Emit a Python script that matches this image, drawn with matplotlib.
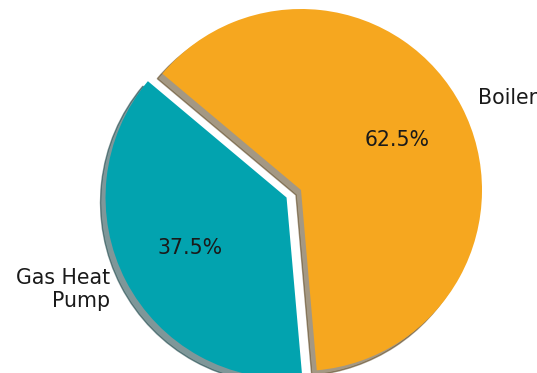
import matplotlib
matplotlib.use("Agg")
import matplotlib.pyplot as plt

labels = ["Gas Heat\nPump", "Boiler"]
values = [37.5, 62.5]
colors = ["#02A3AF", "#F6A71F"]
explode = [0.09, 0.0]

W, H, dpi = 537, 373, 100
fig = plt.figure(figsize=(W / dpi, H / dpi), dpi=dpi)
ax = fig.add_axes([0, 0, 1, 1])

ax.pie(values, labels=labels, colors=colors, explode=explode,
       autopct="%1.1f%%", startangle=140, shadow=True,
       textprops={"fontsize": 14.8, "color": "#1a1a1a"})

# place pie: centre at pixel (301,190 from top), radius 181 px
R = 181.0
cx, cy = 301.0, 190.0
ax.set_aspect("auto")
ax.set_xlim(-cx / R, (W - cx) / R)
ax.set_ylim(-(H - cy) / R, cy / R)
ax.axis("off")

fig.savefig("out.png", dpi=dpi)
